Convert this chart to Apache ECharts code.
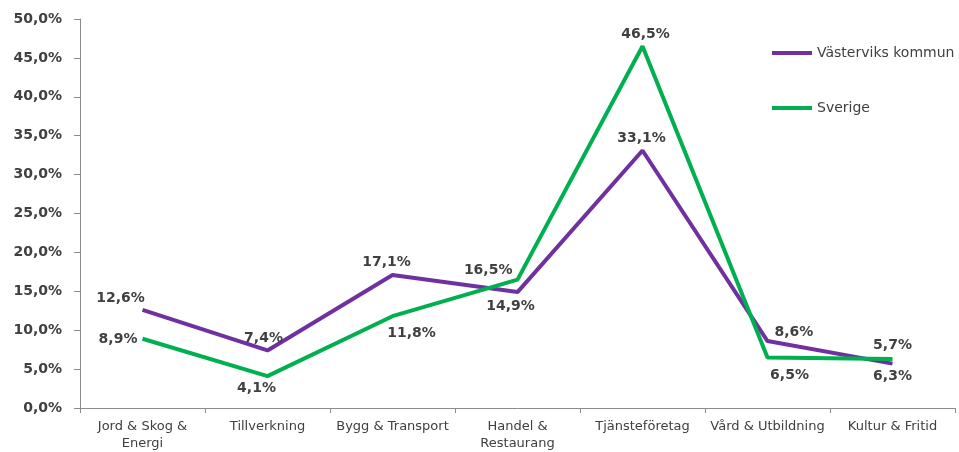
<!DOCTYPE html>
<html><head><meta charset="utf-8">
<script src="https://cdn.jsdelivr.net/npm/echarts@6/dist/echarts.min.js"></script>
<style>html,body{margin:0;padding:0;background:#fff}#c{width:959px;height:452px}</style>
</head><body><div id="c"></div>
<script>
const categories = ['Jord & Skog &\nEnergi', 'Tillverkning', 'Bygg & Transport', 'Handel &\nRestaurang', 'Tjänsteföretag', 'Vård & Utbildning', 'Kultur & Fritid'];
const vastervik = [12.6, 7.4, 17.1, 14.9, 33.1, 8.6, 5.7];
const sverige = [8.9, 4.1, 11.8, 16.5, 46.5, 6.5, 6.3];
const yTicks = [0, 5, 10, 15, 20, 25, 30, 35, 40, 45, 50];

const fmt = v => v.toFixed(1).replace('.', ',') + '%';
// label placement per point (style)
const vPos = [['top',[-22,0]],['top',[-4,0]],['top',[-6,-1]],['bottom',[-7,2]],['top',[-1,0]],['right',[2,-9]],['top',[0,-6]]];
const sPos = [['left',[0,1]],['bottom',[-11,0]],['bottom',[19,5]],['left',[0,-9]],['top',[3,0]],['bottom',[22,6]],['bottom',[0,5]]];
const mk = (vals, pos) => vals.map((v,i) => ({value: v, label: {position: pos[i][0], offset: pos[i][1]}}));
const labelStyle = {show: true, formatter: p => fmt(p.value), color: '#404040', fontSize: 14, fontWeight: 'bold', fontFamily: 'DejaVu Sans'};

const chart = echarts.init(document.getElementById('c'));
chart.setOption({
  animation: false,
  textStyle: {fontFamily: 'DejaVu Sans'},
  grid: {left: 80, right: 4, top: 19, bottom: 41},
  legend: {
    orient: 'vertical', left: 767, top: 41, itemGap: 41,
    itemWidth: 40, itemHeight: 4, icon: 'rect',
    textStyle: {fontSize: 14, color: '#404040', fontFamily: 'DejaVu Sans'},
    data: ['Västerviks kommun', 'Sverige']
  },
  xAxis: {
    type: 'category', data: categories, boundaryGap: true,
    axisLine: {lineStyle: {color: '#8c8c8c', width: 1}},
    axisTick: {show: true, length: 5, lineStyle: {color: '#8c8c8c'}},
    axisLabel: {color: '#404040', fontSize: 13, lineHeight: 17, margin: 10, interval: 0}
  },
  yAxis: {
    type: 'value', min: 0, max: 50, interval: 5,
    axisLine: {show: true, lineStyle: {color: '#8c8c8c'}},
    axisTick: {show: true, length: 6, lineStyle: {color: '#8c8c8c'}},
    splitLine: {show: false},
    axisLabel: {color: '#404040', fontSize: 14, fontWeight: 'bold', margin: 18, formatter: v => yTicks.includes(v) ? fmt(v) : ''}
  },
  series: [
    {name: 'Västerviks kommun', type: 'line', data: mk(vastervik, vPos), symbol: 'circle', symbolSize: 0.1,
     lineStyle: {color: '#7030A0', width: 4}, itemStyle: {color: '#7030A0'}, label: labelStyle},
    {name: 'Sverige', type: 'line', data: mk(sverige, sPos), symbol: 'circle', symbolSize: 0.1,
     lineStyle: {color: '#00B050', width: 4}, itemStyle: {color: '#00B050'}, label: labelStyle}
  ]
});
</script></body></html>
